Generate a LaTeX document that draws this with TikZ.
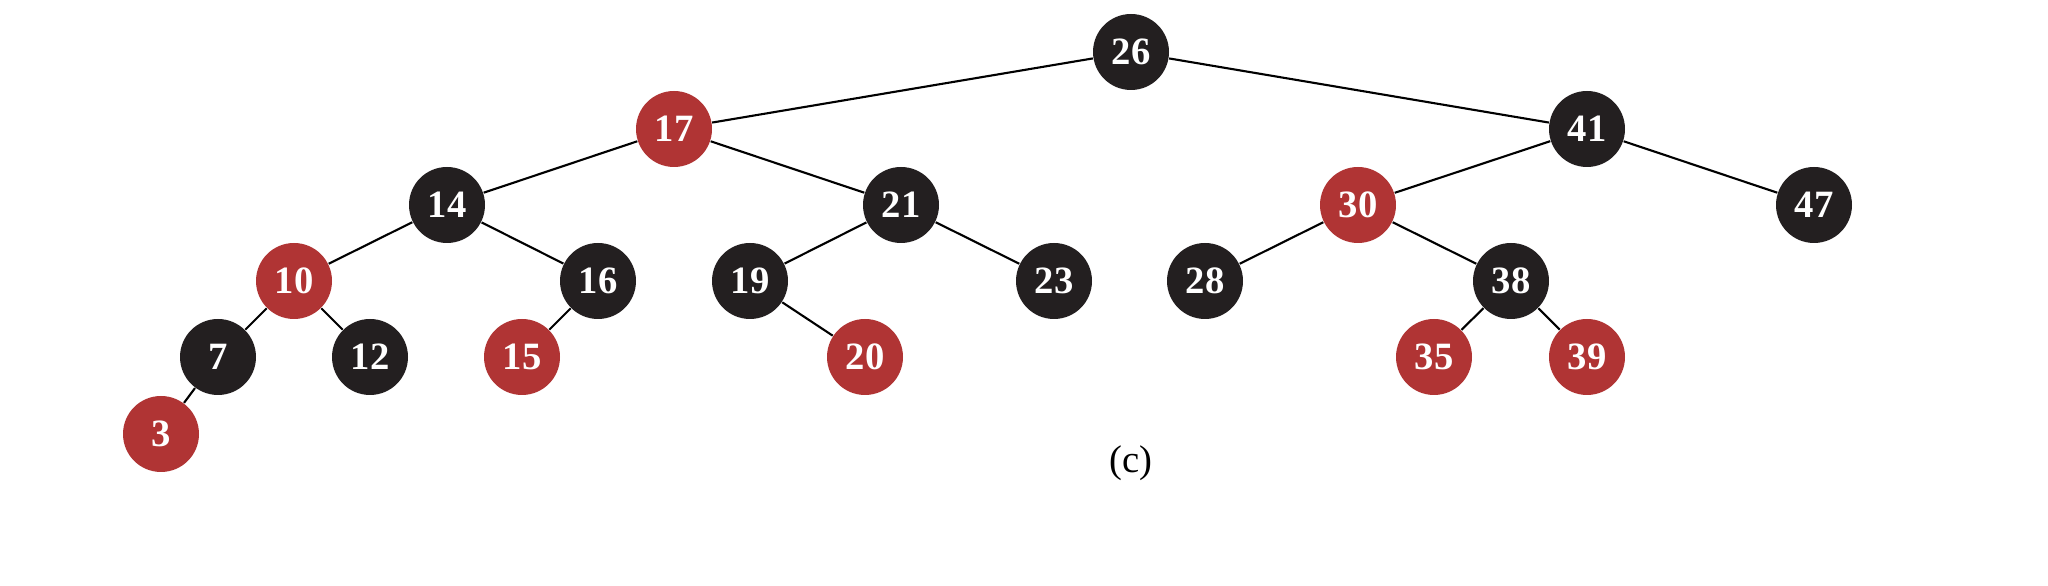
\documentclass[tikz,border=0pt]{standalone}
\usepackage{fontspec}
\setmainfont{Liberation Serif}
\definecolor{rbred}{HTML}{B03434}
\definecolor{rbblack}{HTML}{231F20}

\begin{document}
\begin{tikzpicture}[
    rbnode/.style={circle, minimum size=0.76cm, inner sep=0pt, text=white,
      font=\fontsize{11}{13}\selectfont\bfseries},
    bnode/.style={rbnode, fill=rbblack},
    rnode/.style={rbnode, fill=rbred},
    edge/.style={line width=0.6pt, black}
  ]
      \useasboundingbox (0,0) rectangle (20.48,5.86);

      % Draw the nodes
      \node[bnode] (n26) at (11.31,5.34) {26};
      \node[rnode] (n17) at (6.74,4.57) {17};
      \node[bnode] (n41) at (15.87,4.57) {41};
      \node[bnode] (n14) at (4.47,3.81) {14};
      \node[bnode] (n21) at (9.01,3.81) {21};
      \node[rnode] (n30) at (13.58,3.81) {30};
      \node[bnode] (n47) at (18.14,3.81) {47};
      \node[rnode] (n10) at (2.94,3.05) {10};
      \node[bnode] (n16) at (5.98,3.05) {16};
      \node[bnode] (n19) at (7.50,3.05) {19};
      \node[bnode] (n23) at (10.54,3.05) {23};
      \node[bnode] (n28) at (12.05,3.05) {28};
      \node[bnode] (n38) at (15.11,3.05) {38};
      \node[bnode] (n7) at (2.18,2.29) {7};
      \node[bnode] (n12) at (3.70,2.29) {12};
      \node[rnode] (n15) at (5.22,2.29) {15};
      \node[rnode] (n20) at (8.65,2.29) {20};
      \node[rnode] (n35) at (14.34,2.29) {35};
      \node[rnode] (n39) at (15.87,2.29) {39};
      \node[rnode] (n3) at (1.61,1.52) {3};

      % Draw the edges
      \draw[edge] (n26) -- (n17);
      \draw[edge] (n26) -- (n41);
      \draw[edge] (n17) -- (n14);
      \draw[edge] (n17) -- (n21);
      \draw[edge] (n41) -- (n30);
      \draw[edge] (n41) -- (n47);
      \draw[edge] (n14) -- (n10);
      \draw[edge] (n14) -- (n16);
      \draw[edge] (n21) -- (n19);
      \draw[edge] (n21) -- (n23);
      \draw[edge] (n30) -- (n28);
      \draw[edge] (n30) -- (n38);
      \draw[edge] (n10) -- (n7);
      \draw[edge] (n10) -- (n12);
      \draw[edge] (n16) -- (n15);
      \draw[edge] (n19) -- (n20);
      \draw[edge] (n38) -- (n35);
      \draw[edge] (n38) -- (n39);
      \draw[edge] (n7) -- (n3);

      % Draw the caption
      \node[font=\fontsize{11}{13}\selectfont] (caption) at (11.31,1.23) {(c)};
\end{tikzpicture}
\end{document}
